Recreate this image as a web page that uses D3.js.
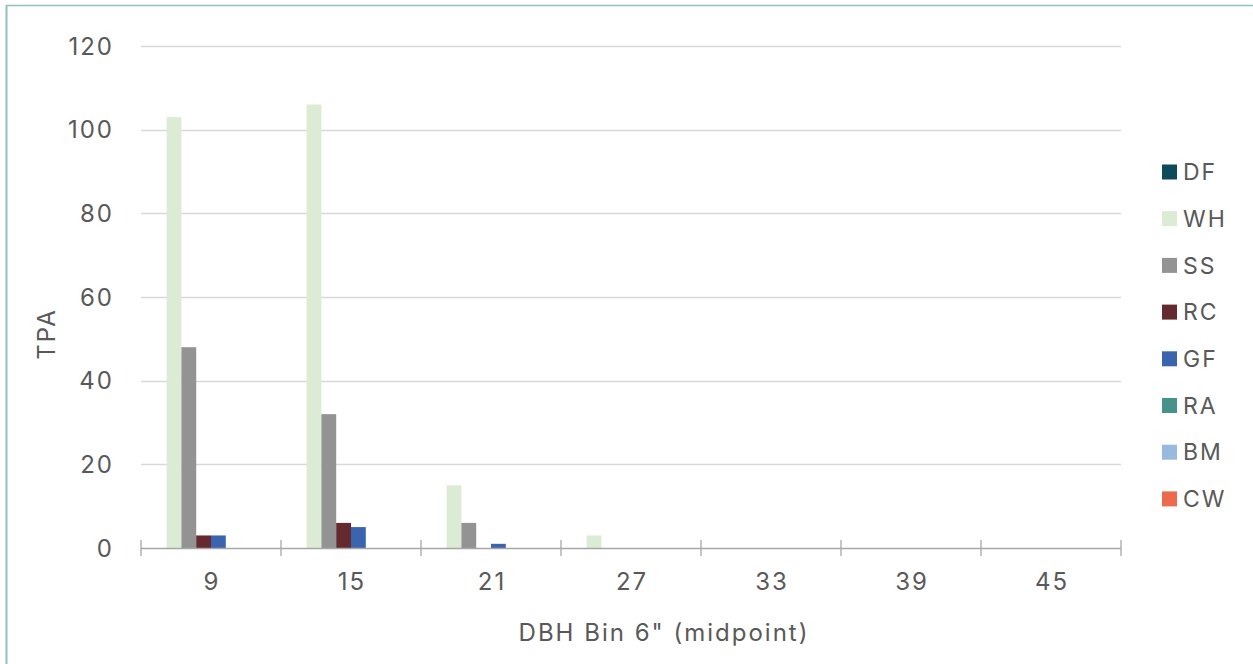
<!DOCTYPE html>
<html>
<head>
<meta charset="utf-8">
<script src="https://cdn.jsdelivr.net/npm/d3@7"></script>
<style>
  html, body { margin: 0; padding: 0; background: #fff; }
  svg { display: block; }
  text { font-family: Inter, "Noto Sans", sans-serif; fill: #595959; font-size: 24px; letter-spacing: 2px; }
</style>
</head>
<body>
<svg id="chart" width="1253" height="664"></svg>
<script>
// DBH bins (midpoints, inches)
const categories = ["9", "15", "21", "27", "33", "39", "45"];
const seriesNames = ["DF", "WH", "SS", "RC", "GF", "RA", "BM", "CW"];
const seriesColors = ["#0d4b5a", "#dcebd3", "#939393", "#652a30", "#3a65ae", "#47938b", "#98bade", "#ee6a4d"];
// Trees per acre by species, one value per DBH bin
const DF = [0, 0, 0, 0, 0, 0, 0];
const WH = [103, 106, 15, 3, 0, 0, 0];
const SS = [48, 32, 6, 0, 0, 0, 0];
const RC = [3, 6, 0, 0, 0, 0, 0];
const GF = [3, 5, 1, 0, 0, 0, 0];
const RA = [0, 0, 0, 0, 0, 0, 0];
const BM = [0, 0, 0, 0, 0, 0, 0];
const CW = [0, 0, 0, 0, 0, 0, 0];
const yTicks = [0, 20, 40, 60, 80, 100, 120];

const seriesValues = [DF, WH, SS, RC, GF, RA, BM, CW];

const svg = d3.select("#chart");

// outer frame (left and top edges visible)
svg.append("line").attr("x1", 6.5).attr("x2", 6.5).attr("y1", 5).attr("y2", 664)
  .attr("stroke", "#8fc1bf").attr("stroke-width", 2);
svg.append("line").attr("x1", 6).attr("x2", 1253).attr("y1", 5.5).attr("y2", 5.5)
  .attr("stroke", "#8fc1bf").attr("stroke-width", 1.5);

const plot = { left: 141, right: 1121, top: 46, bottom: 548 };

const x = d3.scaleBand().domain(categories).range([plot.left, plot.right]).paddingInner(0).paddingOuter(0);
const xInner = d3.scaleBand().domain(seriesNames).range([0, x.bandwidth()]).paddingOuter(0.73).paddingInner(0);
const y = d3.scaleLinear().domain([0, 120]).range([plot.bottom, plot.top]);

// gridlines
svg.append("g").selectAll("line").data(yTicks.filter(d => d > 0)).join("line")
  .attr("x1", plot.left).attr("x2", plot.right)
  .attr("y1", d => Math.round(y(d)) + 0.5).attr("y2", d => Math.round(y(d)) + 0.5)
  .attr("stroke", "#d9d9d9").attr("stroke-width", 1.3);

// y tick labels (trailing letter-spacing compensated)
svg.append("g").selectAll("text").data(yTicks).join("text")
  .attr("x", 114).attr("y", d => y(d)).attr("dy", "0.36em")
  .attr("text-anchor", "end").text(d => d);

// bars
const groups = svg.append("g").selectAll("g").data(categories).join("g")
  .attr("transform", c => `translate(${x(c)},0)`);
groups.selectAll("rect")
  .data((c, i) => seriesNames.map((s, k) => ({ s, k, v: seriesValues[k][i] })))
  .join("rect")
  .attr("x", d => xInner(d.s))
  .attr("width", xInner.bandwidth())
  .attr("y", d => y(d.v))
  .attr("height", d => y(0) - y(d.v))
  .attr("fill", d => seriesColors[d.k]);

// x axis line and ticks
const axisColor = "#a6a6a6";
svg.append("line").attr("x1", plot.left).attr("x2", plot.right)
  .attr("y1", plot.bottom + 0.5).attr("y2", plot.bottom + 0.5)
  .attr("stroke", axisColor).attr("stroke-width", 1.5);
const tickPos = categories.map(c => x(c)).concat([plot.right]);
svg.append("g").selectAll("line").data(tickPos).join("line")
  .attr("x1", d => d).attr("x2", d => d)
  .attr("y1", plot.bottom - 8).attr("y2", plot.bottom + 8)
  .attr("stroke", axisColor).attr("stroke-width", 1.3);

// x tick labels
svg.append("g").selectAll("text").data(categories).join("text")
  .attr("x", c => x(c) + x.bandwidth() / 2 + 1).attr("y", 590)
  .attr("text-anchor", "middle").text(c => c);

// axis titles
svg.append("text").attr("x", 664).attr("y", 641)
  .attr("text-anchor", "middle").text('DBH Bin 6" (midpoint)');
svg.append("text").attr("transform", `translate(55,334) rotate(-90)`)
  .attr("text-anchor", "middle").text("TPA");

// legend
const legend = svg.append("g").selectAll("g").data(seriesNames).join("g")
  .attr("transform", (d, i) => `translate(1162,${172 + i * 46.7})`);
legend.append("rect").attr("x", 0).attr("y", -7.5).attr("width", 15).attr("height", 15)
  .attr("fill", (d, i) => seriesColors[i]);
legend.append("text").attr("x", 21).attr("y", 0).attr("dy", "0.36em")
  .style("font-size", "23px").text(d => d);
</script>
</body>
</html>
